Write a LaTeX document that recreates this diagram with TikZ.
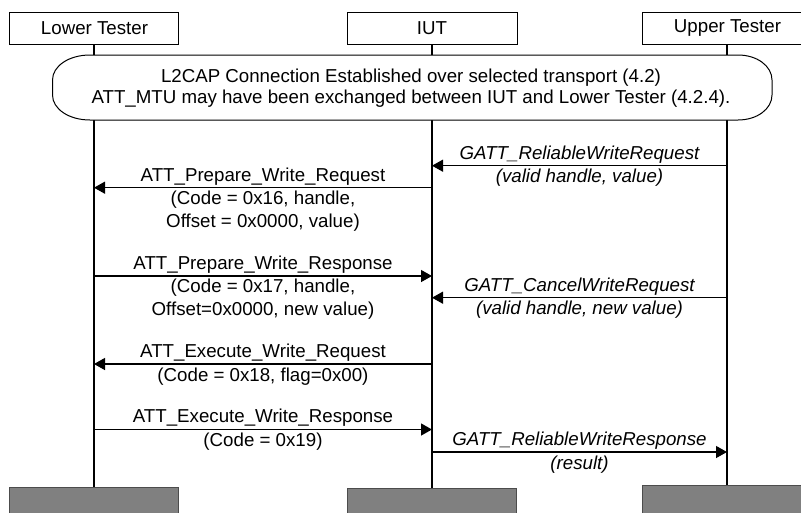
\documentclass[tikz,border=0pt]{standalone}
\usepackage{fontspec}
\setmainfont{Liberation Sans}
\usetikzlibrary{arrows.meta}
\begin{document}
\begin{tikzpicture}[x=1pt,y=-1pt,
  every node/.style={font=\fontsize{18.7}{22.5}\selectfont, inner sep=0pt},
  headbox/.style={draw=black, line width=1pt, fill=white},
  endbox/.style={draw=black!70, line width=0.8pt, fill=black!50},
  lifeline/.style={line width=1.8pt},
  msg/.style={line width=1.3pt, -{Triangle[length=11pt,width=12pt]}},
  lbl/.style={anchor=center},
  glbl/.style={anchor=center, font=\fontsize{18.7}{22.5}\selectfont\itshape}]
\useasboundingbox (0,0) rectangle (801,512);
% header boxes
\draw[headbox] (9,12) rectangle (178,44);
\node (lt) at (94.5,28) {Lower Tester};
\draw[headbox] (347,12) rectangle (517,44);
\node (iut) at (432,28) {IUT};
\draw[headbox] (642,12) rectangle (812,44);
\node (ut) at (727.5,28) {Upper Tester};
% coordinates for lifelines
\coordinate (lt0) at (94,44);
\coordinate (iut0) at (432,44);
\coordinate (ut0) at (727,44);
\coordinate (lt1) at (94,55);
\coordinate (iut1) at (432,55);
\coordinate (ut1) at (727,55);
\coordinate (lt2) at (94,120);
\coordinate (iut2) at (432,120);
\coordinate (ut2) at (727,120);
\coordinate (lt3) at (94,487);
\coordinate (iut3) at (432,488);
\coordinate (ut3) at (727,485);
\draw[lifeline] (lt0) -- (lt1);
\draw[lifeline] (iut0) -- (iut1);
\draw[lifeline] (ut0) -- (ut1);
\draw[lifeline] (lt2) -- (lt3);
\draw[lifeline] (iut2) -- (iut3);
\draw[lifeline] (ut2) -- (ut3);
% rounded box
\draw[line width=1pt, fill=white] (90,55) -- (738,55)
  .. controls (757,55) and (772,66) .. (772,80) -- (772,95)
  .. controls (772,109) and (757,120) .. (738,120) -- (90,120)
  .. controls (69,120) and (52.5,109) .. (52.5,95) -- (52.5,80)
  .. controls (52.5,66) and (69,55) .. (90,55) -- cycle;
\node (c1) at (411,78) {L2CAP Connection Established over selected transport (4.2)};
\node (c2) at (411,99) {ATT\_MTU may have been exchanged between IUT and Lower Tester (4.2.4).};
% messages
\coordinate (a1s) at (727,165.7); \coordinate (a1e) at (432,165.7);
\draw[msg] (a1s) -- (a1e);
\node[glbl] (m1a) at (579.5,154.5) {GATT\_ReliableWriteRequest};
\node[glbl] (m1b) at (579.5,178) {(valid handle, value)};

\coordinate (a2s) at (432,187.7); \coordinate (a2e) at (94,187.7);
\draw[msg] (a2s) -- (a2e);
\node[lbl] (m2a) at (263,176.5) {ATT\_Prepare\_Write\_Request};
\node[lbl] (m2b) at (263,199.5) {(Code = 0x16, handle,};
\node[lbl] (m2c) at (263,222.5) {Offset = 0x0000, value)};

\coordinate (a3s) at (94,276); \coordinate (a3e) at (432,276);
\draw[msg] (a3s) -- (a3e);
\node[lbl] (m3a) at (263,264.5) {ATT\_Prepare\_Write\_Response};
\node[lbl] (m3b) at (263,288) {(Code = 0x17, handle,};
\node[lbl] (m3c) at (263,311) {Offset=0x0000, new value)};

\coordinate (a4s) at (727,297.7); \coordinate (a4e) at (432,297.7);
\draw[msg] (a4s) -- (a4e);
\node[glbl] (m4a) at (579.5,286.5) {GATT\_CancelWriteRequest};
\node[glbl] (m4b) at (579.5,309.5) {(valid handle, new value)};

\coordinate (a5s) at (432,364); \coordinate (a5e) at (94,364);
\draw[msg] (a5s) -- (a5e);
\node[lbl] (m5a) at (263,352.5) {ATT\_Execute\_Write\_Request};
\node[lbl] (m5b) at (263,376.5) {(Code = 0x18, flag=0x00)};

\coordinate (a6s) at (94,429.5); \coordinate (a6e) at (432,429.5);
\draw[msg] (a6s) -- (a6e);
\node[lbl] (m6a) at (263,418) {ATT\_Execute\_Write\_Response};
\node[lbl] (m6b) at (263,442) {(Code = 0x19)};

\coordinate (a7s) at (432,452); \coordinate (a7e) at (727,452);
\draw[msg] (a7s) -- (a7e);
\node[glbl] (m7a) at (579.5,440.5) {GATT\_ReliableWriteResponse};
\node[glbl] (m7b) at (579.5,464.5) {(result)};
% end boxes
\draw[endbox] (9,487) rectangle (178,514);
\draw[endbox] (347,488) rectangle (516,514);
\draw[endbox] (642,485) rectangle (812,514);
\end{tikzpicture}
\end{document}
